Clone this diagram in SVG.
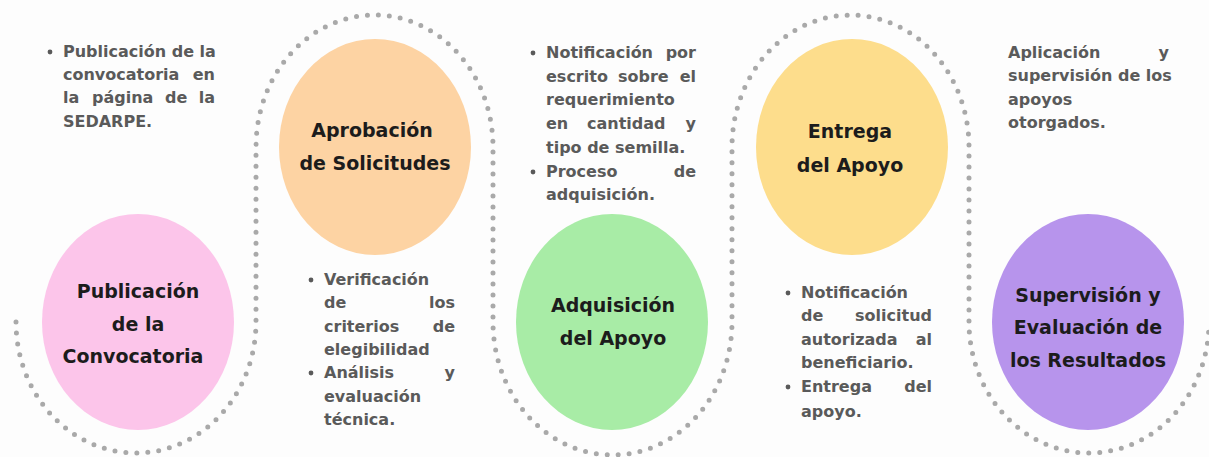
<svg xmlns="http://www.w3.org/2000/svg" width="1209" height="457" viewBox="0 0 1209 457">
<style>
.bg{fill:#fdfdfd}
.dots{fill:none;stroke:#a9a9a9;stroke-width:5;stroke-linecap:round;stroke-dasharray:0 11}
.lbl{font-family:"DejaVu Sans","Liberation Sans",sans-serif;font-weight:bold;font-size:19px;fill:#1c1c1c;text-anchor:middle}
.txt{font-family:"DejaVu Sans","Liberation Sans",sans-serif;font-weight:bold;font-size:16px;fill:#5a5a5a}
.end{text-anchor:end}
.bul{fill:#5a5a5a}
</style>
<rect class="bg" x="0" y="0" width="1209" height="457"/>
<g id="connectors">
<path class="dots" d="M 16 322 A 120 131 0 0 0 256 322 L 256 147 A 118.5 132 0 0 1 493 147 L 493 322 A 119.5 133 0 0 0 732 322 L 732 147 A 118.5 132 0 0 1 969 147 L 969 322 A 120 131 0 0 0 1209 322"/>
</g>
<g id="node-publicacion">
<ellipse cx="138" cy="322" rx="96" ry="108" fill="#fcc5ea"/>
<text class="lbl" x="138" y="298">Publicación</text>
<text class="lbl" x="138" y="331">de la</text>
<text class="lbl" x="133" y="363">Convocatoria</text>
</g>
<g id="node-aprobacion">
<ellipse cx="375" cy="147" rx="96" ry="108" fill="#fdd3a3"/>
<text class="lbl" x="372" y="137">Aprobación</text>
<text class="lbl" x="375" y="170">de Solicitudes</text>
</g>
<g id="node-adquisicion">
<ellipse cx="612" cy="322" rx="96" ry="108" fill="#a8eca6"/>
<text class="lbl" x="613" y="312">Adquisición</text>
<text class="lbl" x="613" y="345">del Apoyo</text>
</g>
<g id="node-entrega">
<ellipse cx="852" cy="147" rx="96" ry="108" fill="#fddd8c"/>
<text class="lbl" x="850" y="138">Entrega</text>
<text class="lbl" x="850" y="172">del Apoyo</text>
</g>
<g id="node-supervision">
<ellipse cx="1088" cy="322" rx="96" ry="108" fill="#b794ec"/>
<text class="lbl" x="1088" y="302">Supervisión y</text>
<text class="lbl" x="1088" y="334">Evaluación de</text>
<text class="lbl" x="1088" y="367">los Resultados</text>
</g>
<g id="text-1">
<circle class="bul" cx="50" cy="52" r="2.4"/>
<text class="txt" x="63" y="57">Publicación de la</text>
<text class="txt" x="63" y="80">convocatoria</text>
<text class="txt end" x="215" y="80">en</text>
<text class="txt" x="63" y="103">la</text>
<text class="txt" x="92" y="103">página</text>
<text class="txt" x="165" y="103">de</text>
<text class="txt end" x="215" y="103">la</text>
<text class="txt" x="63" y="127">SEDARPE.</text>
</g>
<g id="text-2">
<circle class="bul" cx="311" cy="280" r="2.4"/>
<circle class="bul" cx="311" cy="373" r="2.4"/>
<text class="txt" x="324" y="285">Verificación</text>
<text class="txt" x="324" y="308">de</text>
<text class="txt end" x="455" y="308">los</text>
<text class="txt" x="324" y="332">criterios</text>
<text class="txt end" x="455" y="332">de</text>
<text class="txt" x="324" y="355">elegibilidad</text>
<text class="txt" x="324" y="378">Análisis</text>
<text class="txt end" x="455" y="378">y</text>
<text class="txt" x="324" y="402">evaluación</text>
<text class="txt" x="324" y="425">técnica.</text>
</g>
<g id="text-3">
<circle class="bul" cx="533" cy="53" r="2.4"/>
<circle class="bul" cx="533" cy="172" r="2.4"/>
<text class="txt" x="546" y="58">Notificación</text>
<text class="txt end" x="696" y="58">por</text>
<text class="txt" x="546" y="82">escrito</text>
<text class="txt" x="618" y="82">sobre</text>
<text class="txt end" x="696" y="82">el</text>
<text class="txt" x="546" y="105">requerimiento</text>
<text class="txt" x="546" y="129">en</text>
<text class="txt" x="587" y="129">cantidad</text>
<text class="txt end" x="696" y="129">y</text>
<text class="txt" x="546" y="153">tipo de semilla.</text>
<text class="txt" x="546" y="177">Proceso</text>
<text class="txt end" x="696" y="177">de</text>
<text class="txt" x="546" y="200">adquisición.</text>
</g>
<g id="text-4">
<circle class="bul" cx="788" cy="293" r="2.4"/>
<circle class="bul" cx="788" cy="387" r="2.4"/>
<text class="txt" x="801" y="298">Notificación</text>
<text class="txt" x="801" y="321">de</text>
<text class="txt end" x="932" y="321">solicitud</text>
<text class="txt" x="801" y="345">autorizada</text>
<text class="txt end" x="932" y="345">al</text>
<text class="txt" x="801" y="368">beneficiario.</text>
<text class="txt" x="801" y="392">Entrega</text>
<text class="txt end" x="932" y="392">del</text>
<text class="txt" x="801" y="417">apoyo.</text>
</g>
<g id="text-5">
<text class="txt" x="1008" y="58">Aplicación</text>
<text class="txt end" x="1169" y="58">y</text>
<text class="txt" x="1008" y="81">supervisión de los</text>
<text class="txt" x="1008" y="105">apoyos</text>
<text class="txt" x="1008" y="128">otorgados.</text>
</g>
</svg>
